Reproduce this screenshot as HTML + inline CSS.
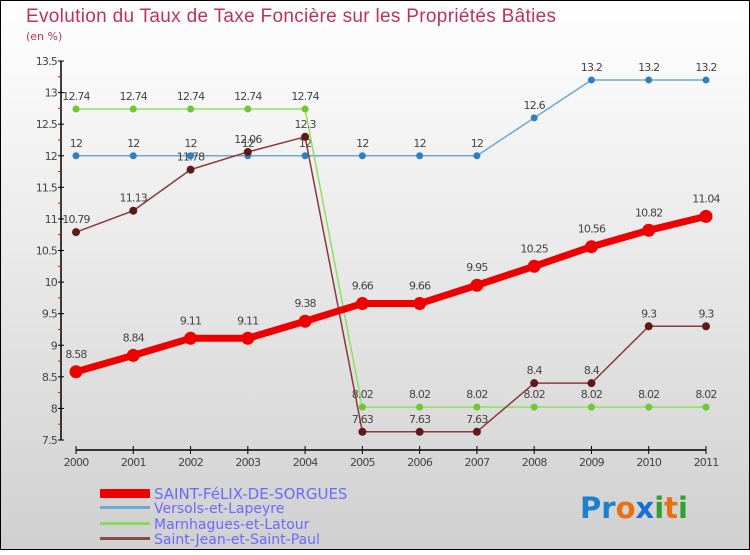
<!DOCTYPE html>
<html><head><meta charset="utf-8"><style>
body{margin:0}
svg text{font-family:"DejaVu Sans","Liberation Sans",sans-serif}
</style></head><body>
<svg id="c" width="750" height="550" xmlns="http://www.w3.org/2000/svg">
<defs><linearGradient id="bg" x1="0" y1="0" x2="0" y2="1"><stop offset="0" stop-color="#ffffff"/><stop offset="1" stop-color="#d0d0d0"/></linearGradient></defs>
<rect x="0.5" y="0.5" width="749" height="549" fill="url(#bg)" stroke="#000"/>
<text x="26" y="22" font-size="19" fill="#c0305a" style="font-family:'Liberation Sans',sans-serif" textLength="530">Evolution du Taux de Taxe Foncière sur les Propriétés Bâties</text>
<text x="26" y="40" font-size="11" fill="#c0305a">(en %)</text>
<g id="axes"></g><g id="series"></g>
<g>
<rect x="100" y="489" width="50" height="9" fill="#ee0000"/>
<text x="154" y="499" font-size="15" fill="#6a6aff">SAINT-FéLIX-DE-SORGUES</text>
<rect x="100" y="506" width="50" height="3" fill="#6fa8d0"/>
<text x="154" y="513" font-size="14" fill="#6a6aff">Versols-et-Lapeyre</text>
<rect x="100" y="522" width="50" height="3" fill="#8fd860"/>
<text x="154" y="529" font-size="14" fill="#6a6aff">Marnhagues-et-Latour</text>
<rect x="100" y="537" width="50" height="3" fill="#8a4a4a"/>
<text x="154" y="544" font-size="14" fill="#6a6aff">Saint-Jean-et-Saint-Paul</text>
</g>
<text x="580" y="518" font-size="29" font-weight="bold"><tspan fill="#1a80d0">Pr</tspan><tspan fill="#e87010">o</tspan><tspan fill="#1a70d0">x</tspan><tspan fill="#30a030">i</tspan><tspan fill="#e87010">t</tspan><tspan fill="#30a030">i</tspan></text>
</svg>
<script>
const years=["2000","2001","2002","2003","2004","2005","2006","2007","2008","2009","2010","2011"];
const yTicks=[7.5,8,8.5,9,9.5,10,10.5,11,11.5,12,12.5,13,13.5];
const saintFelix=[8.58,8.84,9.11,9.11,9.38,9.66,9.66,9.95,10.25,10.56,10.82,11.04];
const versols=[12,12,12,12,12,12,12,12,12.6,13.2,13.2,13.2];
const marnhagues=[12.74,12.74,12.74,12.74,12.74,8.02,8.02,8.02,8.02,8.02,8.02,8.02];
const saintJean=[10.79,11.13,11.78,12.06,12.3,7.63,7.63,7.63,8.4,8.4,9.3,9.3];
const NS="http://www.w3.org/2000/svg";
const x=i=>76+i*(630/(years.length-1));
const y=v=>440-(v-7.5)*(379/6);
function mk(t,a,p){const e=document.createElementNS(NS,t);for(const k in a)e.setAttribute(k,a[k]);p.appendChild(e);return e;}
const ax=document.getElementById('axes');
let e=mk('line',{x1:61,y1:y(13.5),x2:61,y2:y(7.5),stroke:'#000','stroke-width':1.5},ax);

e=mk('line',{x1:76,y1:450,x2:706,y2:450,stroke:'#000','stroke-width':1.5},ax);

yTicks.forEach((v,i)=>{
 let t=mk('line',{x1:58,y1:y(v),x2:64,y2:y(v),stroke:'#000'},ax);
 
 if(i<yTicks.length-1){let m=mk('line',{x1:58,y1:y(v+0.25),x2:61,y2:y(v+0.25),stroke:'#e00'},ax);
 }
 let l=mk('text',{x:57,y:y(v)+4,'font-size':11,fill:'#444','text-anchor':'end','letter-spacing':'-0.8'},ax);l.textContent=String(v);
 
});
years.forEach((yr,i)=>{
 let t=mk('line',{x1:x(i),y1:446,x2:x(i),y2:454,stroke:'#000'},ax);
 
 let l=mk('text',{x:x(i),y:466,'font-size':11,fill:'#444','text-anchor':'middle','letter-spacing':'-0.8'},ax);l.textContent=yr;
 
});
const sg=document.getElementById('series');
function series(data,name,col,dot,w,r,fs,off){
 const g=mk('g',{},sg);
 let p=mk('polyline',{points:data.map((v,i)=>x(i)+','+y(v)).join(' '),fill:'none',stroke:col,'stroke-width':w,'stroke-linejoin':'round'},g);
 
 data.forEach((v,i)=>{let c=mk('circle',{cx:x(i),cy:y(v),r:r,fill:dot},g);
  
  let l=mk('text',{x:x(i),y:y(v)-off,'font-size':fs,fill:'#444','text-anchor':'middle','letter-spacing':'-0.8'},g);l.textContent=String(v);
  });
}
series(versols,'versols-series','#6fa8d0','#2f80c0',1.5,3.5,11,9);
series(marnhagues,'marnhagues-series','#90e060','#70c830',1.5,3.5,11,9);
series(saintJean,'saint-jean-series','#8a3a3a','#601818',1.5,4,11,9);
series(saintFelix,'saint-felix-series','#ee0000','#ee0000',7,6.5,11,14);
</script>
</body></html>
